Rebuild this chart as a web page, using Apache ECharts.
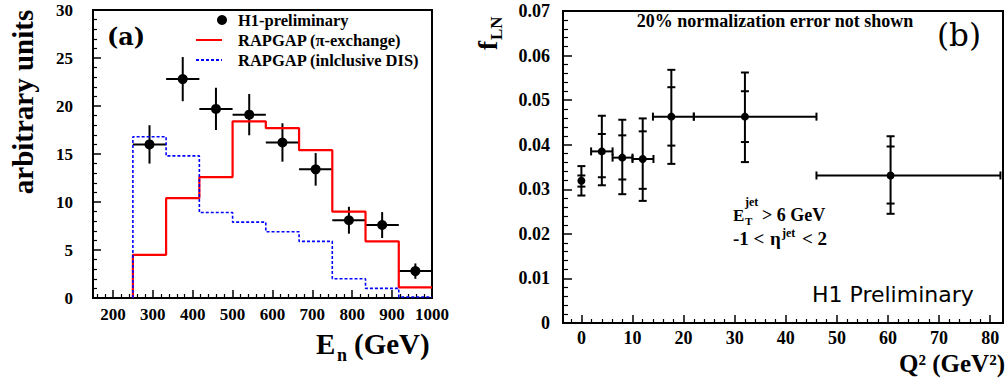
<!DOCTYPE html>
<html>
<head>
<meta charset="utf-8">
<script src="https://cdn.jsdelivr.net/npm/echarts@6/dist/echarts.min.js"></script>
<style>
  html, body { margin: 0; padding: 0; background: #fff; }
  #chart { width: 1006px; height: 378px; }
</style>
</head>
<body>
<div id="chart"></div>
<script>
// ---- panel (a): neutron energy ----
const enEdges = [250, 333.3, 416.7, 500, 583.3, 666.7, 750, 833.3, 916.7, 1000];
const piExchange = [4.5, 10.4, 12.6, 18.4, 17.7, 15.4, 9.0, 5.9, 1.1];
const inclusiveDis = [16.8, 14.8, 8.9, 7.9, 6.9, 5.9, 2.0, 1.0, 0.1];
const h1En = [291.7, 375, 458.3, 541.7, 625, 708.3, 791.7, 875, 958.3];
const h1Val = [16.0, 22.8, 19.7, 19.1, 16.2, 13.4, 8.1, 7.6, 2.8];
const h1Err = [2.0, 2.3, 2.2, 2.15, 2.0, 1.7, 1.4, 1.35, 0.8];
const enTicks = [200, 300, 400, 500, 600, 700, 800, 900, 1000];

// ---- panel (b): f_LN vs Q2 ----
const q2 = [0, 4, 8, 12, 17.6, 32, 60.5];
const q2Lo = [0, 1.9, 6.1, 10, 14, 22, 46];
const q2Hi = [0, 6.1, 10, 14.1, 22, 46, 82];
const fLN = [0.0319, 0.0385, 0.0371, 0.0368, 0.0463, 0.0463, 0.0331];
const fStatLo = [0.0306, 0.0327, 0.0322, 0.0301, 0.0398, 0.0406, 0.0268];
const fStatHi = [0.0331, 0.0424, 0.0421, 0.0430, 0.0529, 0.0520, 0.0396];
const fTotLo = [0.0286, 0.0309, 0.0289, 0.0274, 0.0357, 0.0361, 0.0245];
const fTotHi = [0.0352, 0.0465, 0.0456, 0.0459, 0.0568, 0.0562, 0.0419];
const q2Ticks = [0, 10, 20, 30, 40, 50, 60, 70, 80];

// minor ticks between the labelled ones
const enMinor = [];
for (let v = 160; v < 1000; v += 20) if (v % 100) enMinor.push(v);
const q2Minor = [];
for (let v = -2; v < 82; v += 2) if (v % 10) q2Minor.push(v);

const SERIF = '"Liberation Serif", "Times New Roman", serif';

function stepPoints(edges, vals) {
  const pts = [[edges[0], 0]];
  vals.forEach((v, i) => { pts.push([edges[i], v], [edges[i + 1], v]); });
  return pts;
}

// text placed by its baseline
function txt(x, base, text, size, opts = {}) {
  return {
    type: 'text',
    x: x, y: base - 0.34 * size,
    silent: true,
    style: {
      text: text,
      font: `${opts.weight || 'bold'} ${size}px ${opts.family || SERIF}`,
      fill: '#000',
      textAlign: opts.align || 'left',
      textVerticalAlign: 'middle'
    }
  };
}

const chart = echarts.init(document.getElementById('chart'), null, { renderer: 'svg' });

const tickLabel = { color: '#000', fontFamily: SERIF, fontWeight: 'bold', fontSize: 17 };
const legendText = { color: '#000', fontFamily: SERIF, fontWeight: 'bold', fontSize: 16.5, lineHeight: 20 };

chart.setOption({
  animation: false,
  backgroundColor: '#fff',
  grid: [
    { left: 93, top: 10, width: 339, height: 288, show: true, borderColor: '#000', borderWidth: 2,
      containLabel: false, outerBoundsMode: 'none' },
    { left: 563, top: 11, width: 440, height: 312, show: true, borderColor: '#000', borderWidth: 2,
      containLabel: false, outerBoundsMode: 'none' }
  ],
  legend: [
    {
      data: ['H1-preliminary'], orient: 'vertical', left: 217, top: 10, padding: 0,
      itemWidth: 10, itemHeight: 10, icon: 'circle', selectedMode: false,
      textStyle: Object.assign({ padding: [0, 0, 0, 6] }, legendText)
    },
    {
      data: [
        { name: 'RAPGAP (π-exchange)', icon: 'rect' },
        { name: 'RAPGAP (inlclusive DIS)', icon: 'path://M0,0h3v2h-3zM5,0h3v2h-3zM10,0h3v2h-3zM15,0h3v2h-3zM20,0h3v2h-3zM25,0h1v2h-1z' }
      ],
      orient: 'vertical', left: 196, top: 30, padding: 0,
      itemWidth: 26, itemHeight: 2, itemGap: 0, selectedMode: false,
      textStyle: Object.assign({ padding: [0, 0, 0, 11] }, legendText)
    }
  ],
  xAxis: [
    {
      gridIndex: 0, type: 'value', min: 150, max: 1000, position: 'bottom',
      axisLine: { show: false, onZero: false }, splitLine: { show: false },
      axisTick: { inside: true, length: 8, customValues: enTicks, lineStyle: { color: '#000', width: 1.5 } },
      axisLabel: Object.assign({ customValues: enTicks, margin: 8, formatter: v => String(v) }, tickLabel)
    },
    {
      gridIndex: 0, type: 'value', min: 150, max: 1000, position: 'bottom', offset: 0,
      axisLine: { show: false, onZero: false }, splitLine: { show: false }, axisLabel: { show: false },
      axisTick: { inside: true, length: 4, customValues: enMinor, lineStyle: { color: '#000', width: 1.2 } }
    },
    {
      gridIndex: 1, type: 'value', min: -3.6, max: 82.5, position: 'bottom',
      axisLine: { show: false, onZero: false }, splitLine: { show: false },
      axisTick: { inside: true, length: 8, customValues: q2Ticks, lineStyle: { color: '#000', width: 1.5 } },
      axisLabel: Object.assign({ customValues: q2Ticks, margin: 6, formatter: v => String(v) }, tickLabel, { fontSize: 18 })
    },
    {
      gridIndex: 1, type: 'value', min: -3.6, max: 82.5, position: 'bottom', offset: 0,
      axisLine: { show: false, onZero: false }, splitLine: { show: false }, axisLabel: { show: false },
      axisTick: { inside: true, length: 4, customValues: q2Minor, lineStyle: { color: '#000', width: 1.2 } }
    }
  ],
  yAxis: [
    {
      gridIndex: 0, type: 'value', min: 0, max: 30, interval: 5, position: 'left',
      axisLine: { show: false, onZero: false }, splitLine: { show: false },
      axisTick: { inside: true, length: 8, lineStyle: { color: '#000', width: 1.5 } },
      minorTick: { show: true, splitNumber: 5, length: 4, lineStyle: { color: '#000', width: 1.2 } },
      axisLabel: Object.assign({ margin: 20 }, tickLabel)
    },
    {
      gridIndex: 1, type: 'value', min: 0, max: 0.07, interval: 0.01, position: 'left',
      axisLine: { show: false, onZero: false }, splitLine: { show: false },
      axisTick: { inside: true, length: 9, lineStyle: { color: '#000', width: 1.5 } },
      minorTick: { show: true, splitNumber: 5, length: 5, lineStyle: { color: '#000', width: 1.2 } },
      axisLabel: Object.assign({ margin: 13, formatter: v => (v === 0 ? '0' : v.toFixed(2)) }, tickLabel, { fontSize: 18 })
    }
  ],
  series: [
    {
      name: 'RAPGAP (π-exchange)', type: 'line', xAxisIndex: 0, yAxisIndex: 0,
      data: stepPoints(enEdges, piExchange), symbol: 'none', color: '#ff0000',
      lineStyle: { color: '#ff0000', width: 2.2 }
    },
    {
      name: 'RAPGAP (inlclusive DIS)', type: 'line', xAxisIndex: 0, yAxisIndex: 0,
      data: stepPoints(enEdges, inclusiveDis), symbol: 'none', color: '#0000ff',
      lineStyle: { color: '#0000ff', width: 1.6, type: [3, 2] }
    },
    {
      type: 'custom', xAxisIndex: 0, yAxisIndex: 0, silent: true,
      data: h1En.map((x, i) => [x, h1Val[i], h1Err[i], enEdges[i], enEdges[i + 1]]),
      renderItem: (params, api) => {
        const x = api.value(0), y = api.value(1), e = api.value(2);
        const l = api.coord([api.value(3), y]), r = api.coord([api.value(4), y]);
        const t = api.coord([x, y + e]), b = api.coord([x, y - e]);
        const st = { stroke: '#000', lineWidth: 2 };
        return {
          type: 'group', children: [
            { type: 'line', shape: { x1: l[0], y1: l[1], x2: r[0], y2: r[1] }, style: st },
            { type: 'line', shape: { x1: t[0], y1: t[1], x2: b[0], y2: b[1] }, style: st }
          ]
        };
      }
    },
    {
      name: 'H1-preliminary', type: 'scatter', xAxisIndex: 0, yAxisIndex: 0,
      data: h1En.map((x, i) => [x, h1Val[i]]), symbol: 'circle', symbolSize: 10,
      itemStyle: { color: '#000', opacity: 1 }, z: 5
    },
    {
      type: 'custom', xAxisIndex: 2, yAxisIndex: 1, silent: true,
      data: q2.map((x, i) => [x, fLN[i], q2Lo[i], q2Hi[i], fStatLo[i], fStatHi[i], fTotLo[i], fTotHi[i]]),
      renderItem: (params, api) => {
        const x = api.value(0), y = api.value(1);
        const c = api.coord([x, y]);
        const st = { stroke: '#000', lineWidth: 2 };
        const kids = [];
        const seg = (x1, y1, x2, y2) => kids.push({ type: 'line', shape: { x1, y1, x2, y2 }, style: st });
        const yTop = api.coord([x, api.value(7)])[1], yBot = api.coord([x, api.value(6)])[1];
        seg(c[0], yTop, c[0], yBot);
        [4, 5, 6, 7].forEach(d => {
          const yy = api.coord([x, api.value(d)])[1];
          seg(c[0] - 4, yy, c[0] + 4, yy);
        });
        if (api.value(3) > api.value(2)) {
          const xl = api.coord([api.value(2), y])[0], xr = api.coord([api.value(3), y])[0];
          seg(xl, c[1], xr, c[1]);
          seg(xl, c[1] - 4, xl, c[1] + 4);
          seg(xr, c[1] - 4, xr, c[1] + 4);
        }
        kids.push({ type: 'circle', shape: { cx: c[0], cy: c[1], r: 4 }, style: { fill: '#000' } });
        return { type: 'group', children: kids };
      }
    }
  ],
  graphic: [
    // panel (a)
    { type: 'group', x: 23, y: 102, rotation: Math.PI / 2, silent: true, children: [
      { type: 'text', x: 0, y: 0, style: { text: 'arbitrary units', font: `bold 29px ${SERIF}`, fill: '#000', textAlign: 'center', textVerticalAlign: 'middle' } }
    ] },
    { type: 'text', x: 126, y: 36, silent: true,
      style: { text: '(a)', font: 'bold 24px "DejaVu Serif", serif', fill: '#000', textAlign: 'center', textVerticalAlign: 'middle' } },
    txt(316, 354, 'E', 29),
    txt(337, 361, 'n', 18),
    txt(354, 354, '(GeV)', 29),
    // panel (b)
    { type: 'group', x: 497, y: 50, rotation: Math.PI / 2, silent: true, children: [
      { type: 'text', x: 0, y: -9, style: { text: 'f', font: `bold 27px ${SERIF}`, fill: '#000', textAlign: 'left', textVerticalAlign: 'middle' } },
      { type: 'text', x: 10, y: -1, style: { text: 'LN', font: `bold 17px ${SERIF}`, fill: '#000', textAlign: 'left', textVerticalAlign: 'middle' } }
    ] },
    txt(775, 27, '20% normalization error not shown', 18, { align: 'center' }),
    { type: 'text', x: 959, y: 35, silent: true,
      style: { text: '(b)', font: '31px "DejaVu Serif", serif', fill: '#000', textAlign: 'center', textVerticalAlign: 'middle' } },
    txt(733, 221, 'E', 17),
    txt(745, 206, 'jet', 12),
    txt(745, 225, 'T', 11),
    txt(762, 221, '> 6 GeV', 18),
    txt(733, 245, '-1 <', 19),
    txt(770, 245, 'η', 19),
    txt(782, 237, 'jet', 12),
    txt(802, 245, '< 2', 19),
    txt(812, 302, 'H1 Preliminary', 22, { weight: 'normal', family: '"DejaVu Sans", sans-serif' }),
    txt(1005, 372, 'Q² (GeV²)', 25, { align: 'right' })
  ]
});
</script>
</body>
</html>
